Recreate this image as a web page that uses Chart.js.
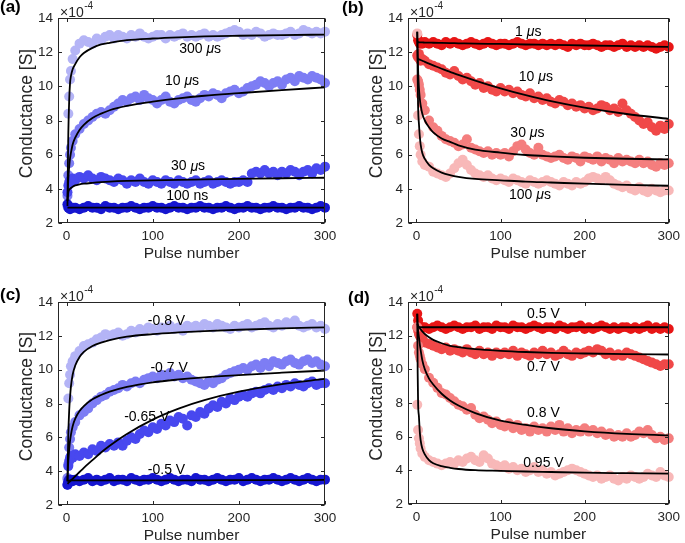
<!DOCTYPE html>
<html><head><meta charset="utf-8">
<script src="https://cdn.jsdelivr.net/npm/chart.js@4/dist/chart.umd.min.js"></script>
<style>
html,body{margin:0;padding:0;background:#fff;overflow:hidden;width:685px;height:543px;position:relative}
canvas{position:absolute}
</style></head><body>
<canvas id="ca" width="342" height="271" style="left:0;top:0"></canvas>
<canvas id="cb" width="343" height="271" style="left:342px;top:0"></canvas>
<canvas id="cc" width="342" height="272" style="left:0;top:271px"></canvas>
<canvas id="cd" width="343" height="272" style="left:342px;top:271px"></canvas>
<script>
// ---------------- data ----------------
const PULSES = [1,2,3,4,5,7,10,15,20,25,30,35,40,45,50,55,60,65,70,75,80,85,90,95,100,105,110,115,120,125,130,135,140,145,150,155,160,165,170,175,180,185,190,195,200,205,210,215,220,225,230,235,240,245,250,255,260,265,270,275,280,285,290,295,300];
const FIT_PULSES = [1,1.5,2,3,4,5,7,10,15,20,30,40,50,70,100,130,160,200,250,300];
const X_TICKS = [0,100,200,300];
const Y_TICKS = [2,4,6,8,10,12,14];

// (a) pulse width, potentiation
const A_LABELS = ['300 μs','10 μs','30 μs','100 ns'];
const A_300US = [3.0,8.4,9.4,10.4,10.9,11.6,
 12.1,12.5,12.7,12.6,12.5,12.8,12.7,12.9,13.0,
 12.8,13.0,12.9,12.8,13.0,12.9,13.1,12.9,12.8,12.9,
 13.0,13.0,12.8,13.0,12.9,13.0,13.1,12.9,13.0,12.9,
 13.0,13.1,12.9,13.0,12.9,13.0,13.1,13.2,13.3,13.2,
 13.0,13.1,13.0,13.2,13.1,12.9,13.0,13.1,13.0,13.0,
 13.1,13.2,13.0,13.1,13.3,13.2,13.1,13.2,13.1,13.2];
const A_10US = [3.6,4.8,5.5,6.0,6.4,6.8,
 7.2,7.5,7.8,8.0,8.2,8.4,8.5,8.4,8.6,
 8.8,9.0,9.2,9.1,9.3,9.4,9.2,9.5,9.3,9.2,
 9.0,9.2,9.4,9.1,9.0,9.2,9.3,9.4,9.2,9.1,
 9.3,9.5,9.4,9.6,9.5,9.3,9.6,9.7,9.8,9.6,
 9.7,9.9,10.0,10.1,10.3,10.2,10.0,10.2,10.3,10.1,
 10.4,10.5,10.3,10.6,10.5,10.4,10.6,10.5,10.4,10.2];
const A_30US = [3.8,4.2,4.4,4.5,4.4,4.6,
 4.5,4.7,4.6,4.8,4.6,4.5,4.7,4.6,4.5,
 4.4,4.6,4.5,4.3,4.5,4.4,4.6,4.4,4.3,4.5,
 4.4,4.3,4.5,4.4,4.3,4.5,4.4,4.3,4.4,4.5,
 4.3,4.4,4.5,4.3,4.4,4.5,4.4,4.3,4.4,4.4,
 4.5,4.4,4.9,5.0,4.9,5.1,4.9,5.0,4.8,5.0,
 4.9,5.1,5.0,4.8,5.0,5.1,4.9,5.2,5.1,5.3];
const A_100NS = [3.1,2.9,2.9,2.8,2.9,2.9,
 2.9,2.8,2.9,3.0,2.9,2.9,2.8,3.0,2.9,
 2.9,2.8,2.9,2.9,3.0,2.9,2.8,2.9,2.9,3.0,
 2.9,2.9,2.8,2.9,3.0,2.9,2.9,2.8,2.9,2.9,
 3.0,2.9,2.9,2.8,2.9,2.9,3.0,2.9,2.8,2.9,
 2.9,3.0,2.9,2.9,2.8,2.9,2.9,3.0,2.9,2.9,
 2.8,2.9,2.9,3.0,2.9,2.9,2.8,2.9,3.0,2.9];
const FIT_A_300US = [3.0,5.5,7.3,9.2,10.2,10.6,11.0,11.3,11.7,11.95,12.25,12.45,12.55,12.7,12.8,12.87,12.92,12.96,13.0,13.03];
const FIT_A_10US = [3.3,4.0,4.6,5.3,5.8,6.1,6.6,7.0,7.45,7.75,8.15,8.4,8.6,8.85,9.1,9.3,9.45,9.6,9.78,9.94];
const FIT_A_30US = [3.3,3.6,3.8,3.95,4.0,4.05,4.12,4.2,4.26,4.3,4.35,4.39,4.42,4.46,4.5,4.53,4.55,4.58,4.62,4.65];
const FIT_A_100NS = [2.9,2.9,2.9,2.9,2.9,2.9,2.9,2.9,2.9,2.9,2.9,2.9,2.9,2.9,2.9,2.9,2.9,2.9,2.9,2.9];

// (b) pulse width, depression
const B_LABELS = ['1 μs','10 μs','30 μs','100 μs'];
const B_1US = [13.0,12.7,12.6,12.5,12.6,12.5,
 12.6,12.5,12.6,12.5,12.4,12.6,12.5,12.6,12.5,
 12.4,12.5,12.6,12.5,12.4,12.5,12.6,12.5,12.4,12.5,
 12.5,12.4,12.5,12.6,12.5,12.4,12.5,12.5,12.4,12.5,
 12.4,12.5,12.4,12.5,12.4,12.3,12.5,12.4,12.5,12.4,
 12.4,12.5,12.4,12.3,12.4,12.4,12.3,12.4,12.5,12.3,
 12.4,12.3,12.4,12.3,12.4,12.3,12.2,12.3,12.4,12.3];
const B_10US = [11.8,11.7,11.9,11.6,11.5,11.6,
 11.5,11.3,11.2,11.1,11.0,10.8,10.7,10.9,10.6,
 10.4,10.5,10.3,10.1,10.2,9.9,10.0,9.8,9.7,9.9,
 9.7,9.8,9.6,9.7,9.5,9.4,9.6,9.3,9.4,9.2,
 9.3,9.1,9.0,9.2,9.1,8.9,9.0,8.8,8.9,8.7,
 8.8,8.6,8.7,8.9,8.8,8.6,8.7,8.5,9.0,8.6,
 8.4,8.2,8.0,7.8,7.9,7.6,7.4,7.7,7.5,7.8];
const B_30US = [10.4,10.3,10.1,9.8,9.5,9.0,
 8.6,8.0,7.6,7.4,7.1,6.9,6.8,6.7,6.5,
 6.6,6.9,6.4,6.3,6.2,6.1,6.2,6.0,6.1,6.0,
 6.1,5.9,6.2,6.5,6.6,6.3,6.1,6.0,6.4,6.0,
 5.9,5.8,5.9,6.0,5.8,5.7,5.9,5.8,5.6,5.9,
 5.8,5.7,5.9,5.6,5.8,5.7,5.5,5.8,5.6,5.7,
 5.6,5.5,5.7,5.5,5.6,5.4,5.3,5.5,5.4,5.5];
const B_100US = [13.1,8.3,7.2,6.5,6.0,5.6,
 5.4,5.3,5.0,4.9,4.8,4.7,4.9,5.2,5.5,
 5.7,5.4,5.1,4.9,4.8,4.7,4.8,4.6,4.5,4.6,
 4.5,4.4,4.6,4.5,4.4,4.3,4.5,4.4,4.3,4.4,
 4.5,4.4,4.3,4.2,4.4,4.3,4.2,4.4,4.3,4.4,
 4.6,4.7,4.6,4.5,4.7,4.5,4.3,4.2,4.1,4.2,
 4.0,3.9,4.1,3.9,3.8,4.0,3.9,3.8,3.9,3.9];
const FIT_B_1US = [12.58,12.58,12.58,12.58,12.57,12.57,12.57,12.56,12.56,12.55,12.54,12.53,12.52,12.5,12.48,12.45,12.43,12.39,12.35,12.31];
const FIT_B_10US = [11.63,11.62,11.61,11.58,11.56,11.54,11.5,11.43,11.33,11.23,11.03,10.85,10.67,10.34,9.88,9.48,9.13,8.75,8.38,8.1];
const FIT_B_30US = [13.2,12.0,11.0,9.9,9.3,8.9,8.4,8.0,7.6,7.3,6.95,6.75,6.55,6.3,6.12,5.98,5.9,5.82,5.76,5.72];
const FIT_B_100US = [13.2,10.5,8.8,7.8,7.1,6.6,6.1,5.75,5.4,5.2,4.95,4.8,4.7,4.58,4.5,4.42,4.37,4.3,4.23,4.18];

// (c) amplitude, potentiation
const C_LABELS = ['-0.8 V','-0.7 V','-0.65 V','-0.5 V'];
const C_M08V = [3.5,8.3,9.2,9.7,10.2,10.5,
 10.8,11.1,11.4,11.5,11.6,11.8,11.9,12.1,12.0,
 12.1,12.2,12.0,12.1,12.3,12.2,12.4,12.3,12.5,12.4,
 12.3,12.5,12.4,12.6,12.4,12.5,12.3,12.6,12.5,12.6,
 12.5,12.7,12.6,12.5,12.7,12.6,12.5,12.4,12.6,12.5,
 12.6,12.7,12.5,12.6,12.7,12.8,12.6,12.5,12.7,12.6,
 12.8,12.7,12.9,12.6,12.5,12.6,12.7,12.5,12.6,12.4];
const C_M07V = [3.6,4.4,5.4,5.9,6.3,6.6,
 6.9,7.3,7.5,7.7,8.0,8.2,8.4,8.5,8.7,
 8.8,8.9,9.1,9.0,9.2,9.3,9.2,9.4,9.5,9.6,
 9.5,9.7,9.6,9.8,9.6,9.7,9.5,9.6,9.4,9.3,
 9.2,9.1,9.3,9.2,9.4,9.5,9.7,9.8,9.9,10.0,
 10.1,10.0,10.2,10.3,10.1,10.4,10.2,10.5,10.4,10.3,
 10.5,10.6,10.4,10.3,10.5,10.6,10.4,10.5,10.3,10.2];
const C_M065V = [3.2,4.3,4.6,4.8,4.9,4.8,
 5.0,4.9,5.1,5.0,5.3,5.2,5.5,5.4,5.6,
 5.5,5.7,5.5,5.8,6.0,5.9,6.2,6.4,6.3,6.6,
 6.5,6.8,6.7,7.0,6.9,7.2,7.1,6.7,7.3,7.2,
 7.5,7.4,7.7,7.9,7.8,8.1,8.0,8.3,8.2,8.4,
 8.5,8.4,8.6,8.7,8.6,8.8,8.9,8.8,9.0,8.9,
 9.1,9.0,9.2,9.1,9.0,9.2,9.3,9.1,9.2,9.2];
const C_M05V = [3.2,3.4,3.5,3.4,3.5,3.4,
 3.5,3.4,3.5,3.6,3.4,3.5,3.4,3.5,3.6,
 3.4,3.5,3.5,3.4,3.6,3.5,3.4,3.5,3.5,3.6,
 3.5,3.4,3.5,3.6,3.5,3.4,3.5,3.5,3.4,3.6,
 3.5,3.5,3.4,3.5,3.6,3.5,3.4,3.5,3.5,3.6,
 3.4,3.5,3.6,3.5,3.4,3.5,3.5,3.6,3.5,3.4,
 3.5,3.6,3.5,3.4,3.5,3.6,3.5,3.4,3.5,3.5];
const FIT_C_M08V = [3.4,5.0,6.2,7.6,8.4,9.0,9.7,10.25,10.75,11.05,11.4,11.6,11.75,11.95,12.1,12.2,12.28,12.36,12.44,12.5];
const FIT_C_M07V = [3.4,4.1,4.6,5.3,5.8,6.15,6.65,7.1,7.55,7.85,8.25,8.5,8.7,8.98,9.25,9.42,9.55,9.68,9.82,9.95];
const FIT_C_M065V = [3.25,3.27,3.3,3.35,3.4,3.45,3.55,3.7,3.95,4.2,4.65,5.1,5.5,6.2,7.05,7.7,8.2,8.7,9.15,9.45];
const FIT_C_M05V = [3.4,3.42,3.43,3.44,3.45,3.45,3.45,3.45,3.45,3.45,3.45,3.45,3.45,3.45,3.46,3.46,3.46,3.47,3.47,3.48];

// (d) amplitude, depression
const D_LABELS = ['0.5 V','0.7 V','0.8 V','0.95 V'];
const D_05V = [13.3,12.9,12.6,12.5,12.4,12.5,
 12.5,12.4,12.5,12.6,12.5,12.4,12.5,12.6,12.5,
 12.4,12.5,12.5,12.6,12.4,12.5,12.5,12.4,12.6,12.5,
 12.5,12.4,12.6,12.5,12.5,12.4,12.5,12.6,12.5,12.4,
 12.5,12.5,12.4,12.6,12.5,12.4,12.5,12.5,12.6,12.4,
 12.5,12.4,12.5,12.6,12.5,12.4,12.5,12.4,12.5,12.5,
 12.4,12.5,12.4,12.5,12.6,12.4,12.5,12.4,12.5,12.4];
const D_07V = [12.5,12.3,12.1,12.0,11.9,11.8,
 11.6,11.5,11.4,11.3,11.2,11.3,11.1,11.2,11.1,
 11.0,11.2,11.0,10.9,11.1,10.9,11.0,10.8,11.0,10.9,
 11.0,10.9,11.1,10.8,11.0,10.9,10.8,11.0,10.9,11.1,
 10.9,11.0,10.8,10.9,11.1,10.9,10.8,11.0,10.9,11.0,
 11.1,11.0,11.2,11.1,10.9,11.0,10.8,10.9,10.8,11.0,
 10.9,10.8,10.7,10.6,10.5,10.4,10.3,10.2,10.3,10.3];
const D_08V = [12.5,11.4,11.0,10.8,10.6,10.3,
 10.0,9.5,9.2,8.9,8.6,8.5,8.3,8.1,7.9,
 7.8,7.6,7.7,7.3,7.1,7.2,7.0,6.8,6.9,6.7,
 6.6,6.8,6.5,6.7,6.4,6.5,6.3,6.6,6.4,6.5,
 6.3,6.6,6.4,6.7,6.3,6.5,6.2,6.4,6.3,6.5,
 6.3,6.4,6.2,6.3,6.1,6.2,6.0,6.1,6.0,6.2,
 6.0,6.1,6.3,6.2,6.4,6.1,5.9,6.0,5.8,5.9];
const D_095V = [7.9,6.4,5.9,5.6,5.3,5.0,
 4.8,4.6,4.5,4.4,4.3,4.4,4.5,4.4,4.6,
 4.5,4.7,4.8,4.6,4.5,4.9,4.7,4.4,4.3,4.2,
 4.3,4.1,4.2,4.0,4.1,3.9,4.0,4.2,3.9,4.0,
 3.8,3.9,3.7,3.8,3.9,4.0,4.1,4.0,3.9,3.8,
 3.7,3.6,3.7,3.5,3.6,3.7,3.5,3.4,3.6,3.5,
 3.7,3.6,3.5,3.6,3.8,3.7,3.6,3.9,3.7,3.6];
const FIT_D_05V = [12.5,12.5,12.5,12.5,12.5,12.5,12.5,12.5,12.5,12.5,12.5,12.5,12.5,12.5,12.5,12.5,12.5,12.5,12.5,12.5];
const FIT_D_07V = [12.7,12.65,12.6,12.52,12.45,12.38,12.25,12.1,11.9,11.75,11.55,11.4,11.32,11.2,11.1,11.03,10.98,10.94,10.9,10.88];
const FIT_D_08V = [13.3,12.7,12.3,11.9,11.5,11.15,10.55,10.0,9.45,9.1,8.55,8.15,7.85,7.4,6.95,6.7,6.5,6.32,6.17,6.08];
const FIT_D_095V = [13.3,9.8,8.0,7.2,6.3,5.8,5.3,4.95,4.6,4.42,4.25,4.15,4.08,4.01,3.97,3.93,3.9,3.86,3.83,3.8];

// ---------------- styles ----------------
const BLUES = ['#b4b4f6','#7d7df4','#4848ef','#1616d0'];
const REDS  = ['#e81616','#f04848','#f47e7e','#f8b8b8'];
const INK = '#262626';
const FONT = '"Liberation Sans", Arial, Helvetica, sans-serif';

const PANELS = [
  { id:'ca', letter:'(a)', letterPos:[0,12], area:{left:58,top:18,right:325,bottom:223},
    series:[A_300US,A_10US,A_30US,A_100NS], fits:[FIT_A_300US,FIT_A_10US,FIT_A_30US,FIT_A_100NS],
    colors:BLUES, labels:A_LABELS, notePos:[[155,12.2],[134,10.3],[141,5.3],[140,3.55]] },
  { id:'cb', letter:'(b)', letterPos:[0,12.5], area:{left:66,top:18,right:332,bottom:223},
    series:[B_1US,B_10US,B_30US,B_100US], fits:[FIT_B_1US,FIT_B_10US,FIT_B_30US,FIT_B_100US],
    colors:REDS, labels:B_LABELS, notePos:[[133,13.2],[142,10.55],[132,7.25],[135,3.65]] },
  { id:'cc', letter:'(c)', letterPos:[0,29], area:{left:58,top:31,right:325,bottom:234},
    series:[C_M08V,C_M07V,C_M065V,C_M05V], fits:[FIT_C_M08V,FIT_C_M07V,FIT_C_M065V,FIT_C_M05V],
    colors:BLUES, labels:C_LABELS, notePos:[[116,12.85],[119,10.1],[93,7.2],[116,4.05]] },
  { id:'cd', letter:'(d)', letterPos:[6,32], area:{left:66,top:31,right:332,bottom:233},
    series:[D_05V,D_07V,D_08V,D_095V], fits:[FIT_D_05V,FIT_D_07V,FIT_D_08V,FIT_D_095V],
    colors:REDS, labels:D_LABELS, notePos:[[151,13.3],[151,10.15],[151,7.4],[151,4.4]] }
];

function richText(ctx, text, x, y, size) {
  const parts = text.split(/(μ)/).filter(s => s.length);
  const fonts = parts.map(s => (s === 'μ' ? 'italic ' : '') + size + 'px ' + FONT);
  let total = 0;
  parts.forEach((s, i) => { ctx.font = fonts[i]; total += ctx.measureText(s).width; });
  let cx = x - total / 2;
  ctx.textAlign = 'left'; ctx.textBaseline = 'middle';
  parts.forEach((s, i) => { ctx.font = fonts[i]; ctx.fillText(s, cx, y); cx += ctx.measureText(s).width; });
}

function framePlugin(P) {
  return {
    id: 'frame',
    afterDatasetsDraw(chart) {
      const { ctx, scales: { x, y } } = chart;
      ctx.save();
      ctx.fillStyle = '#000';
      P.labels.forEach((t, i) => {
        const [px, py] = P.notePos[i];
        richText(ctx, t, x.getPixelForValue(px), y.getPixelForValue(py), 14);
      });
      ctx.restore();
    },
    afterDraw(chart) {
      const { ctx, chartArea: a, scales: { x, y } } = chart;
      ctx.save();
      ctx.strokeStyle = INK; ctx.lineWidth = 1;
      const L = Math.round(a.left) + 0.5, R = Math.round(a.right) - 0.5;
      const T = Math.round(a.top) + 0.5, B = Math.round(a.bottom) - 0.5;
      ctx.strokeRect(L, T, R - L, B - T);
      const TL = 3.5;
      ctx.beginPath();
      X_TICKS.forEach(v => {
        const p = Math.round(x.getPixelForValue(v)) + 0.5;
        ctx.moveTo(p, B); ctx.lineTo(p, B - TL);
        ctx.moveTo(p, T); ctx.lineTo(p, T + TL);
      });
      Y_TICKS.forEach(v => {
        const p = Math.round(y.getPixelForValue(v)) + 0.5;
        ctx.moveTo(L, p); ctx.lineTo(L + TL, p);
        ctx.moveTo(R, p); ctx.lineTo(R - TL, p);
      });
      ctx.stroke();
      ctx.fillStyle = INK;
      // axis titles
      ctx.font = '15.5px ' + FONT;
      ctx.textAlign = 'center'; ctx.textBaseline = 'middle';
      ctx.fillText('Pulse number', (a.left + a.right) / 2, a.bottom + 31);
      ctx.save();
      ctx.translate(a.left - 31, (a.top + a.bottom) / 2 - 7);
      ctx.rotate(-Math.PI / 2);
      ctx.font = '17.5px ' + FONT;
      ctx.fillText('Conductance [S]', 0, 0);
      ctx.restore();
      // exponent
      ctx.textAlign = 'left'; ctx.textBaseline = 'alphabetic';
      ctx.font = '14px ' + FONT;
      const bx = a.left + 2;
      ctx.fillText('×10', bx, a.top - 1.5);
      const w = ctx.measureText('×10').width;
      ctx.font = '10px ' + FONT;
      ctx.fillText('-4', bx + w + 0.5, a.top - 9.5);
      // panel letter
      ctx.fillStyle = '#000';
      ctx.font = 'bold 17px ' + FONT;
      ctx.fillText(P.letter, P.letterPos[0], P.letterPos[1]);
      ctx.restore();
    }
  };
}

function makePanel(P) {
  const cv = document.getElementById(P.id);
  const W = cv.width, H = cv.height, A = P.area;
  const datasets = [];
  P.fits.forEach((f, i) => datasets.push({
    data: FIT_PULSES.map((p, k) => ({ x: p, y: f[k] })),
    showLine: true, borderColor: '#000', borderWidth: 1.8, pointRadius: 0,
    cubicInterpolationMode: 'monotone', order: 0, clip: 2
  }));
  P.series.forEach((s, i) => datasets.push({
    data: PULSES.map((p, k) => ({ x: p, y: s[k] })),
    showLine: false, pointRadius: 5, pointBorderWidth: 0,
    backgroundColor: P.colors[i], pointBackgroundColor: P.colors[i],
    order: 10 - i, clip: false
  }));
  new Chart(cv, {
    type: 'scatter',
    data: { datasets },
    plugins: [framePlugin(P)],
    options: {
      responsive: false, animation: false, devicePixelRatio: 1, events: [],
      layout: { padding: { left: 0, top: A.top, right: W - A.right, bottom: 0 } },
      plugins: { legend: { display: false }, tooltip: { enabled: false } },
      scales: {
        x: {
          type: 'linear', min: -10, max: 300,
          afterBuildTicks: s => { s.ticks = X_TICKS.map(v => ({ value: v })); },
          afterFit: s => { s.height = H - A.bottom; },
          grid: { display: false, drawTicks: false }, border: { display: false },
          ticks: { color: INK, font: { family: FONT, size: 13.5 }, padding: 5, maxRotation: 0, autoSkip: false }
        },
        y: {
          type: 'linear', min: 2, max: 14,
          afterBuildTicks: s => { s.ticks = Y_TICKS.map(v => ({ value: v })); },
          afterFit: s => { s.width = A.left; },
          grid: { display: false, drawTicks: false }, border: { display: false },
          ticks: { color: INK, font: { family: FONT, size: 13.5 }, padding: 5, autoSkip: false }
        }
      }
    }
  });
}
PANELS.forEach(makePanel);
</script>
</body></html>
